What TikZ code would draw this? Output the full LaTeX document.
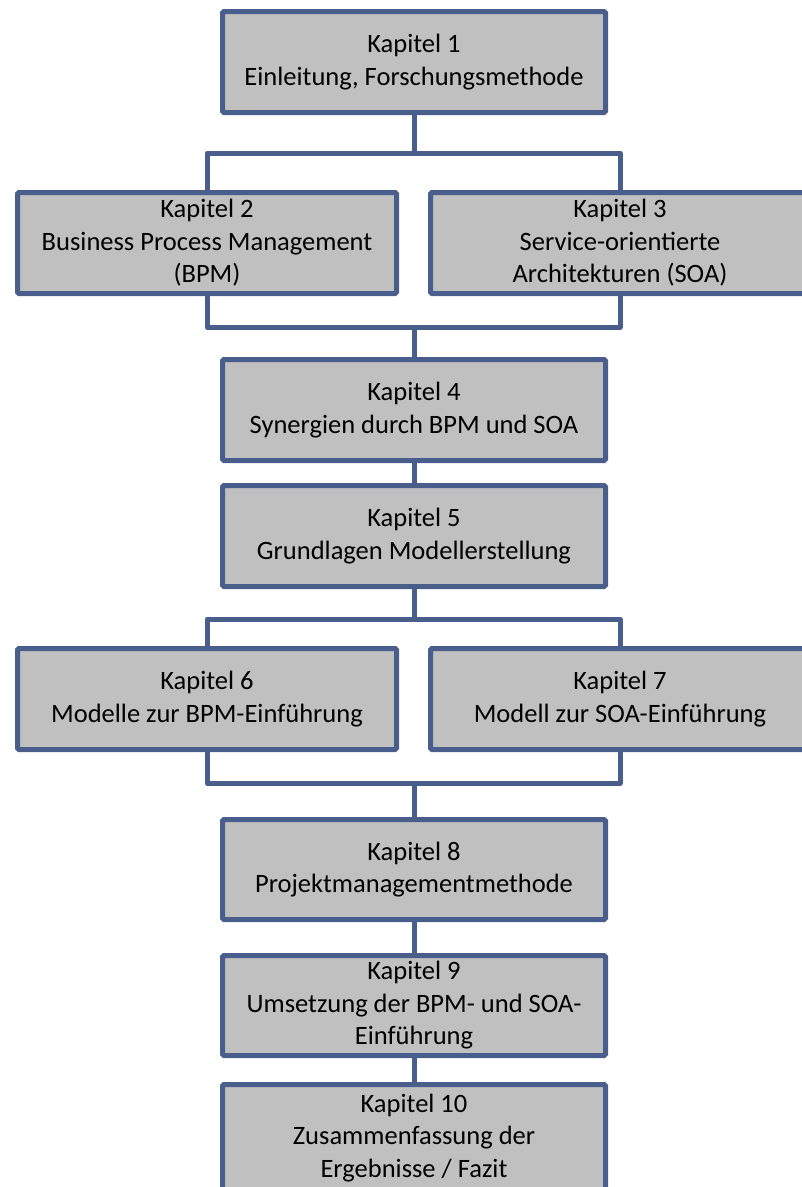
\documentclass[tikz,border=0pt]{standalone}
\usepackage{fontspec}
\setmainfont{Carlito}
\usetikzlibrary{backgrounds}
\definecolor{frame}{RGB}{74,94,140}
\definecolor{boxfill}{RGB}{192,192,192}
\begin{document}
\begin{tikzpicture}[x=1pt,y=-1pt,
  chapter/.style={draw=frame, fill=boxfill, line width=5pt, rounded corners=1.5pt,
    minimum width=383pt, minimum height=101pt, inner sep=0pt, align=center,
    font=\fontsize{26.5}{32.5}\selectfont, text=black},
  sidebox/.style={chapter, minimum width=379pt},
  link/.style={draw=frame, line width=5pt, line join=round}]
\useasboundingbox (0,0) rectangle (802,1187);

% chapter boxes
\node[chapter] (b1) at (414,62) {Kapitel 1\\Einleitung, Forschungsmethode};
\node[sidebox] (b2) at (207,243) {Kapitel 2\\Business Process Management\\(BPM)};
\node[sidebox] (b3) at (620,243) {Kapitel 3\\Service-orientierte\\Architekturen (SOA)};
\node[chapter] (b4) at (414,410) {Kapitel 4\\Synergien durch BPM und SOA};
\node[chapter] (b5) at (414,536) {Kapitel 5\\Grundlagen Modellerstellung};
\node[sidebox] (b6) at (207,699) {Kapitel 6\\Modelle zur BPM-Einführung};
\node[sidebox] (b7) at (620,699) {Kapitel 7\\Modell zur SOA-Einführung};
\node[chapter, minimum height=100pt] (b8) at (414,869.5) {Kapitel 8\\Projektmanagementmethode};
\node[chapter, minimum height=100pt] (b9) at (414,1005.5) {Kapitel 9\\Umsetzung der BPM- und SOA-\\Einführung};
\node[chapter, minimum height=107pt] (b10) at (414,1138) {Kapitel 10\\Zusammenfassung der\\Ergebnisse / Fazit};

% junction points of the branching connectors
\coordinate (j1) at (414,153);
\coordinate (j2) at (414,327);
\coordinate (j3) at (414,619);
\coordinate (j4) at (414,783);

% connectors, kept behind the boxes
\begin{scope}[on background layer]
\path[link] (b1.south) -- (j1);
\path[link] (b2.north) |- (j1) -| (b3.north);
\path[link] (b2.south) |- (j2) -| (b3.south);
\path[link] (j2) -- (b4.north);
\path[link] (b4.south) -- (b5.north);
\path[link] (b5.south) -- (j3);
\path[link] (b6.north) |- (j3) -| (b7.north);
\path[link] (b6.south) |- (j4) -| (b7.south);
\path[link] (j4) -- (b8.north);
\path[link] (b8.south) -- (b9.north);
\path[link] (b9.south) -- (b10.north);
\end{scope}
\end{tikzpicture}
\end{document}
